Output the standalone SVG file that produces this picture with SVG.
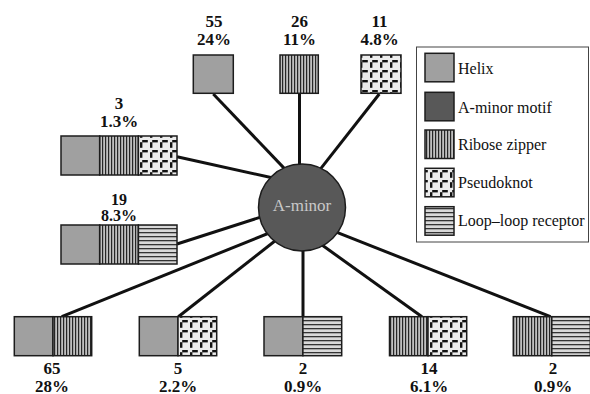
<svg xmlns="http://www.w3.org/2000/svg" width="590" height="394" viewBox="0 0 590 394">
<style>
.bg{fill:#ffffff}
.box{stroke:#1c1c1c;stroke-width:1.5}
.helix{fill:#a0a0a0}
.amotif{fill:#585858}
.rz{fill:url(#rz)}
.pk{fill:url(#pk)}
.ll{fill:url(#ll)}
.conn line{stroke:#111111;stroke-width:3;stroke-linecap:butt}
.lbl{font-family:"Liberation Serif","Times New Roman",serif;font-weight:bold;font-size:17px;fill:#111111;text-anchor:middle}
.sm{font-size:16px}
.leg{font-family:"Liberation Serif","Times New Roman",serif;font-size:16px;fill:#111111}
.center{font-family:"Liberation Serif","Times New Roman",serif;font-size:17px;fill:#c8c8c8;text-anchor:middle}
</style>
<defs>
<pattern id="rz" width="3" height="10" patternUnits="userSpaceOnUse">
<rect width="3" height="10" fill="#c0c0c0"/>
<rect width="1.2" height="10" fill="#262626"/>
</pattern>
<pattern id="ll" width="10" height="4" patternUnits="userSpaceOnUse">
<rect width="10" height="4" fill="#d8d8d8"/>
<rect width="10" height="1.3" fill="#333333"/>
</pattern>
<pattern id="pk" width="10" height="10" patternUnits="userSpaceOnUse">
<rect width="10" height="10" fill="#ececec"/>
<rect x="2.2" y="0" width="5.6" height="2.4" fill="#111111"/>
<rect x="0" y="2.2" width="2.4" height="5.6" fill="#111111"/>
</pattern>
</defs>
<rect class="bg" x="0" y="0" width="590" height="394"/>

<g id="connectors" class="conn">
<line x1="213.3" y1="94" x2="288.8" y2="173.1"/>
<line x1="299.5" y1="93.5" x2="299.5" y2="172"/>
<line x1="379.3" y1="94" x2="316.8" y2="173.6"/>
<line x1="177" y1="156.7" x2="277.8" y2="179"/>
<line x1="177" y1="244" x2="267.6" y2="214.9"/>
<line x1="61.7" y1="316.7" x2="274.1" y2="231"/>
<line x1="178.3" y1="316.7" x2="280.3" y2="236.8"/>
<line x1="303" y1="316.7" x2="303" y2="243"/>
<line x1="422" y1="316.7" x2="316.8" y2="241.3"/>
<line x1="550.5" y1="316.7" x2="331.9" y2="230.4"/>
</g>

<g id="a-minor">
<circle class="amotif box" cx="302" cy="207.5" r="43.5"/>
<text class="center" x="302" y="211">A-minor</text>
</g>

<g id="node-helix">
<rect class="helix box" x="193.3" y="55" width="40" height="38.3"/>
<text class="lbl" x="214" y="27">55</text>
<text class="lbl" x="214" y="45">24%</text>
</g>

<g id="node-ribose">
<rect class="rz box" x="280" y="55" width="38.3" height="38.3"/>
<text class="lbl" x="299.5" y="27">26</text>
<text class="lbl" x="299.5" y="45">11%</text>
</g>

<g id="node-pseudoknot">
<rect class="pk box" x="361" y="55" width="40" height="38.3"/>
<text class="lbl" x="379.5" y="27">11</text>
<text class="lbl" x="379.5" y="45">4.8%</text>
</g>

<g id="node-helix-ribose-pseudoknot">
<rect class="helix box" x="61" y="136" width="38.7" height="39"/>
<rect class="rz box" x="99.7" y="136" width="38.7" height="39"/>
<rect class="pk box" x="138.4" y="136" width="38.6" height="39"/>
<text class="lbl" x="119" y="109">3</text>
<text class="lbl" x="119" y="127">1.3%</text>
</g>

<g id="node-helix-ribose-loop">
<rect class="helix box" x="61" y="225" width="38.7" height="39"/>
<rect class="rz box" x="99.7" y="225" width="38.7" height="39"/>
<rect class="ll box" x="138.4" y="225" width="38.6" height="39"/>
<text class="lbl sm" x="119" y="205">19</text>
<text class="lbl sm" x="119" y="221">8.3%</text>
</g>

<g id="node-helix-ribose">
<rect class="helix box" x="14.3" y="316.7" width="38.7" height="39"/>
<rect class="rz box" x="53" y="316.7" width="38.7" height="39"/>
<text class="lbl" x="52" y="373.5">65</text>
<text class="lbl" x="52" y="391.5">28%</text>
</g>

<g id="node-helix-pseudoknot">
<rect class="helix box" x="139.3" y="316.7" width="38.7" height="39"/>
<rect class="pk box" x="178" y="316.7" width="38.7" height="39"/>
<text class="lbl" x="178" y="373.5">5</text>
<text class="lbl" x="178" y="391.5">2.2%</text>
</g>

<g id="node-helix-loop">
<rect class="helix box" x="264" y="316.7" width="38.9" height="39"/>
<rect class="ll box" x="302.9" y="316.7" width="38.8" height="39"/>
<text class="lbl" x="303" y="373.5">2</text>
<text class="lbl" x="303" y="391.5">0.9%</text>
</g>

<g id="node-ribose-pseudoknot">
<rect class="rz box" x="389.5" y="316.7" width="38.5" height="39"/>
<rect class="pk box" x="428" y="316.7" width="38.7" height="39"/>
<text class="lbl" x="429" y="373.5">14</text>
<text class="lbl" x="429" y="391.5">6.1%</text>
</g>

<g id="node-ribose-loop">
<rect class="rz box" x="513.3" y="316.7" width="38.5" height="39"/>
<rect class="ll box" x="551.8" y="316.7" width="38.5" height="39"/>
<text class="lbl" x="553" y="373.5">2</text>
<text class="lbl" x="553" y="391.5">0.9%</text>
</g>

<g id="legend">
<rect x="416.5" y="47" width="172" height="195" fill="#ffffff" stroke="#444444" stroke-width="1"/>
<rect class="helix box" x="425" y="53.3" width="29" height="28.5"/>
<text class="leg" x="458" y="74">Helix</text>
<rect class="amotif box" x="425" y="92.3" width="29" height="28.5"/>
<text class="leg" x="458" y="112.5">A-minor motif</text>
<rect class="rz box" x="425" y="130" width="29" height="28.5"/>
<text class="leg" x="458" y="150">Ribose zipper</text>
<rect class="pk box" x="425" y="168.3" width="29" height="28.5"/>
<text class="leg" x="458" y="187.5">Pseudoknot</text>
<rect class="ll box" x="425" y="206.7" width="29" height="28.5"/>
<text class="leg" x="458" y="225.5">Loop–loop receptor</text>
</g>
</svg>
